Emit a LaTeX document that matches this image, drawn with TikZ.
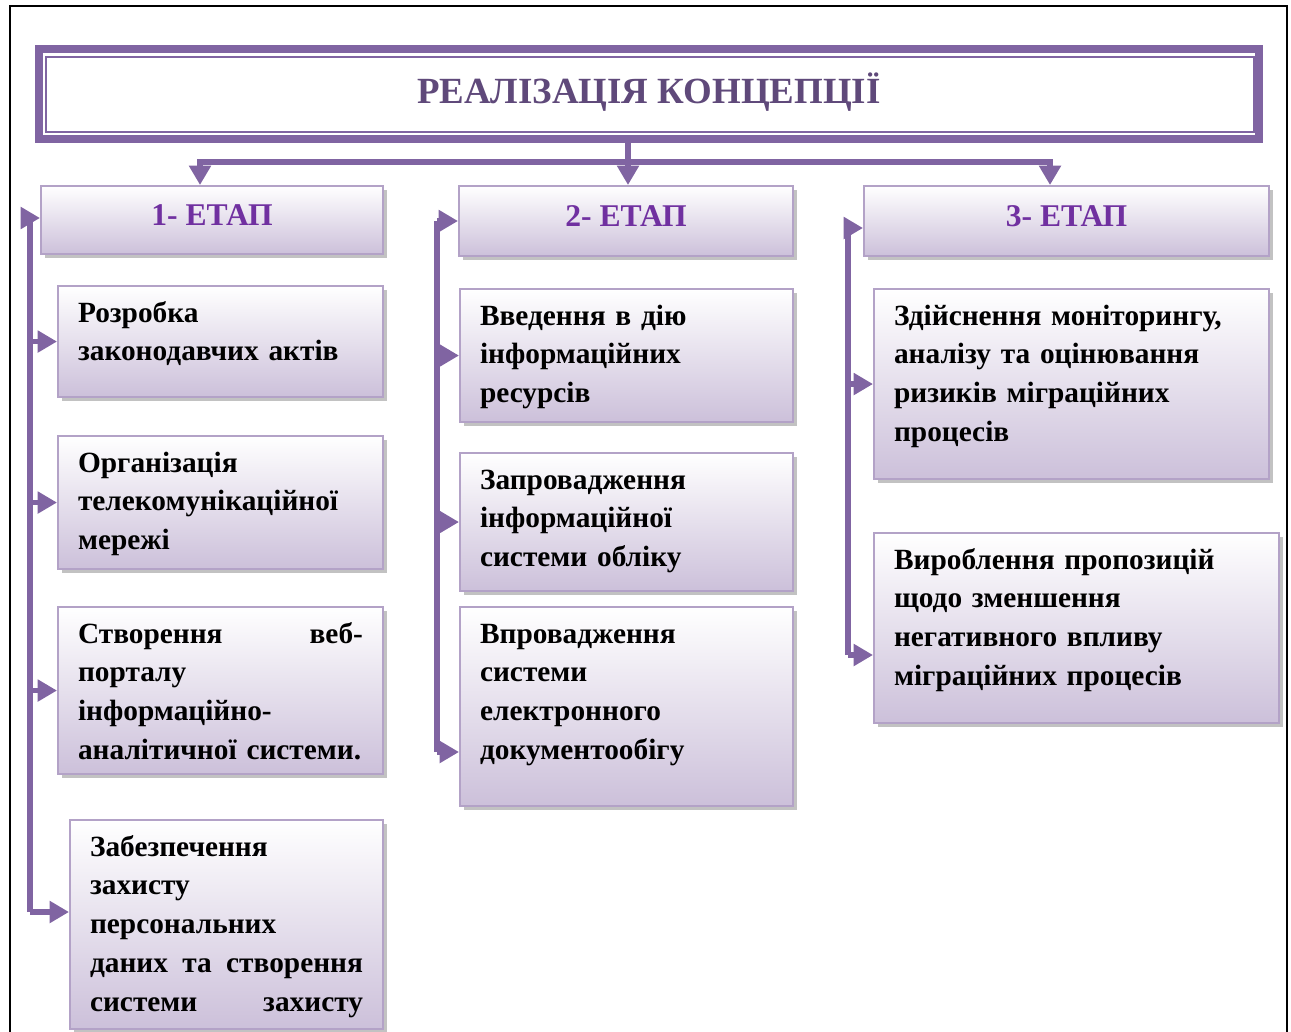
\documentclass[tikz,border=0pt]{standalone}
\usepackage{fontspec}
\setmainfont{Liberation Serif}
\usetikzlibrary{arrows.meta,shadows,calc}

\definecolor{conncol}{HTML}{8064A2}
\definecolor{edgecol}{HTML}{B3A2C7}
\definecolor{lavcol}{HTML}{CCC0DA}
\definecolor{titlecol}{HTML}{5F497A}
\definecolor{headcol}{HTML}{7030A0}

\tikzset{
  conn/.style={draw=conncol, line width=3pt},
  arr/.style={conn, -{Triangle[length=11pt,width=12pt]}},
  stagebox/.style={draw=edgecol, line width=1.2pt, top color=white, bottom color=lavcol,
    drop shadow={shadow xshift=2pt, shadow yshift=-2.2pt, fill=gray!80, opacity=.6},
    anchor=north west, inner xsep=0.4cm, inner ysep=0pt},
  headbox/.style={stagebox, align=center, text=headcol, text depth=0.2cm,
    font=\fontsize{18}{22}\selectfont\bfseries},
  itembox/.style={stagebox, align=left, text height=0.72cm,
    font=\fontsize{16.7}{22.1}\selectfont\bfseries},
}

\begin{document}
\begin{tikzpicture}[x=0.02cm, y=-0.02cm]
\useasboundingbox (0,0) rectangle (1291,1031);
\draw[line width=1.2pt] (10,1040) -- (10,6) -- (1287,6) -- (1287,1040);

% title
\node[draw=conncol, line width=4.5pt, minimum width=24.4cm, minimum height=1.8cm,
      anchor=north west, text=titlecol, text depth=0.23cm, font=\fontsize{21}{24}\selectfont\bfseries]
      (title) at (35,45) {РЕАЛІЗАЦІЯ КОНЦЕПЦІЇ};
\draw[conncol, line width=1.2pt] ($(title.north west)+(11,12)$) rectangle ($(title.south east)+(-9,-11)$);

% stages
\node[headbox, minimum width=6.84cm, minimum height=1.36cm] (head1) at (40,185) {1- ЕТАП};
\node[headbox, minimum width=6.68cm, minimum height=1.4cm] (head2) at (458,185) {2- ЕТАП};
\node[headbox, minimum width=8.1cm, minimum height=1.4cm] (head3) at (863,185) {3- ЕТАП};

% stage 1
\node[itembox, text width=5.7cm, minimum width=6.5cm, text depth=1.5cm] (box1a) at (57,285)
  {Розробка\\ законодавчих актів};
\node[itembox, text width=5.7cm, minimum width=6.5cm, text depth=1.94cm] (box1b) at (57,435)
  {Організація\\ телекомунікаційної\\ мережі};
\node[itembox, text width=5.7cm, minimum width=6.5cm, text depth=2.62cm] (box1c) at (57,606)
  {Створення\hfill веб-\\ порталу\\ інформаційно-\\ аналітичної~системи.};
\node[itembox, text width=5.46cm, minimum width=6.26cm, text depth=3.46cm] (box1d) at (69,819)
  {Забезпечення\\ захисту\\ персональних\\ даних\hfill та\hfill створення\\ системи\hfill захисту};

% stage 2
\node[itembox, text width=5.86cm, minimum width=6.66cm, text depth=1.94cm] (box2a) at (459,288)
  {Введення в дію\\ інформаційних\\ ресурсів};
\node[itembox, text width=5.86cm, minimum width=6.66cm, text depth=2.04cm] (box2b) at (459,452)
  {Запровадження\\ інформаційної\\ системи обліку};
\node[itembox, text width=5.86cm, minimum width=6.66cm, text depth=3.26cm] (box2c) at (459,606)
  {Впровадження\\ системи\\ електронного\\ документообігу};

% stage 3
\node[itembox, text width=7.1cm, minimum width=7.9cm, text depth=3.08cm] (box3a) at (873,288)
  {Здійснення моніторингу,\\ аналізу та оцінювання\\ ризиків міграційних\\ процесів};
\node[itembox, text width=7.3cm, minimum width=8.1cm, text depth=3.08cm] (box3b) at (873,532)
  {Вироблення пропозицій\\ щодо зменшення\\ негативного впливу\\ міграційних процесів};

% title to stages
\coordinate (barL) at (200,162);
\coordinate (barM) at (628,162);
\coordinate (barR) at (1050,162);
\draw[conn] (barM |- title.south) -- (barM);
\draw[conn, {Triangle[length=11pt,width=12pt]}-{Triangle[length=11pt,width=12pt]}]
  (barL |- head1.north) -- (barL) -- (barR) -- (barR |- head3.north);
\draw[arr] (barM) -- (barM |- head2.north);

% stage 1 spine
\coordinate (s1top) at (30,218);
\coordinate (s1bot) at (30,912);
\draw[conn] (s1bot) -- (s1top);
\draw[arr] (s1top) -- (s1top -| head1.west);
\draw[arr] (box1a.west -| s1top) -- (box1a.west);
\draw[arr] (box1b.west -| s1top) -- (box1b.west);
\draw[arr] (box1c.west -| s1top) -- (box1c.west);
\draw[arr] (s1bot) -- (s1bot -| box1d.west);

% stage 2 spine
\coordinate (s2top) at (437,221);
\coordinate (s2bot) at (437,752);
\draw[conn] (s2bot) -- (s2top);
\draw[arr] (s2top) -- (s2top -| head2.west);
\draw[arr] (box2a.west -| s2top) -- (box2a.west);
\draw[arr] (box2b.west -| s2top) -- (box2b.west);
\draw[arr] (s2bot) -- (s2bot -| box2c.west);

% stage 3 spine
\coordinate (s3top) at (848,228);
\coordinate (s3bot) at (848,655);
\draw[conn] (s3bot) -- (s3top);
\draw[arr] (s3top) -- (s3top -| head3.west);
\draw[arr] (box3a.west -| s3top) -- (box3a.west);
\draw[arr] (s3bot) -- (s3bot -| box3b.west);
\end{tikzpicture}
\end{document}
